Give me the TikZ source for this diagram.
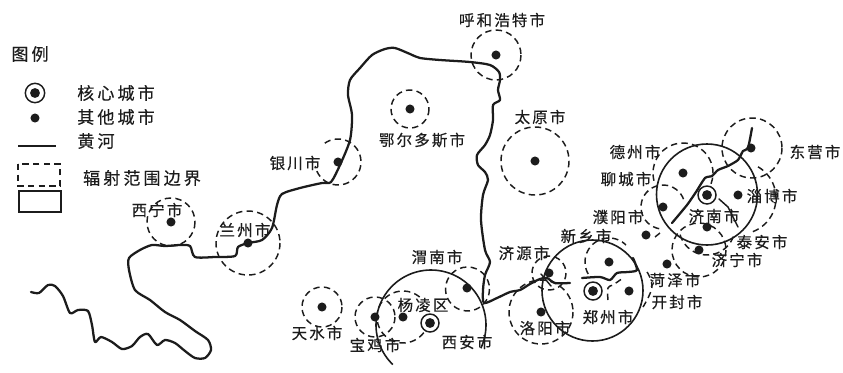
\documentclass[tikz,border=0pt]{standalone}
\usepackage{fontspec}
\newfontfamily\cjkf[LetterSpace=14,FakeBold=0.4]{Noto Sans CJK SC}
\newfontfamily\cjkleg[LetterSpace=18,FakeBold=0.3]{Noto Sans CJK SC}
\definecolor{ink}{HTML}{1C1C1C}
\tikzset{
  river/.style={draw=ink,line width=1.7pt,line join=round,line cap=round},
  thinriver/.style={draw=ink,line width=1.1pt,line cap=round},
  zone/.style={draw=ink,line width=1.1pt,dash pattern=on 4.8pt off 3.2pt},
  reach/.style={draw=ink,line width=1.2pt},
  citydot/.style={circle,fill=ink,inner sep=0pt,minimum size=6.8pt},
  corecity/.style={circle,draw=ink,line width=1.1pt,fill=white,inner sep=0pt,minimum size=13.5pt,
     path picture={\fill[ink] (path picture bounding box.center) circle (3.7pt);}},
  lbl/.style={font=\cjkf\fontsize{11.6pt}{13pt}\selectfont,text=ink,inner sep=0pt},
  legendlbl/.style={font=\cjkleg\fontsize{12.8pt}{14pt}\selectfont,text=ink,inner sep=0pt},
}
\begin{document}
\begin{tikzpicture}[x=0.75pt,y=-0.75pt]
\useasboundingbox (0,0) rectangle (843,372);
% Yellow River
\draw[river] plot[smooth,tension=0.45] coordinates {(31,292)(39,293)(48,285)(55,286)(63,296)(70,313)(78,310)(88,311)(92,325)(95,342)(101,337)(112,342)(122,349)(132,346)(140,337)(148,334)(157,345)(165,340)(175,343)(185,351)(195,358)(205,358)(211,350)(208,340)(195,331)(180,320)(165,312)(150,300)(135,290)(129,270)(129,258)(140,250)(152,245)(165,246)(180,245)(190,246)(195,257)(215,257)(235,256)(238,247)(248,243)(262,240)(272,228)(277,205)(282,194)(300,188)(322,183)(331,182)(340,165)(350,140)(352,115)(348,95)(350,80)(360,68)(372,55)(385,49)(395,48)(410,54)(420,58)(440,60)(470,62)(490,65)(499,72)(500,80)(498,90)(500,100)(493,105)(493,120)(490,135)(485,145)(477,155)(478,165)(485,172)(488,180)(483,195)(481,220)(485,250)(490,262)(485,275)(483,290)(484,303)(497,298)(510,292)(520,290)(530,284)(540,279)(547,278)(555,283)(570,283)};
\draw[river] plot[smooth,tension=0.45] coordinates {(582,278)(600,277)(610,280)(617,273)(628,272)(637,270)(633,258)};
\draw[river] plot[smooth,tension=0.35] coordinates {(672,223)(687,205)(696,192)(705,178)(712,176)(718,170)(728,166)(738,160)(743,151)(748,148)(752,128)};
\draw[thinriver] (541,274) -- (551,286);
\draw[thinriver] (719,199) -- (728,207) -- (738,227);
% Core-city radiation boundaries
\draw[reach] plot[smooth,domain=134:385,samples=40] ({431+55*cos(\x)},{325+55*sin(\x)});
\draw[reach] (592.5,290.5) circle[radius=50.5];
\draw[reach] (707,194.5) circle[radius=50.5];
% Other-city radiation boundaries
\draw[zone] (496,55) circle[radius=25];
\draw[zone] (410,109) circle[radius=19];
\draw[zone] plot[smooth,domain=-125:170,samples=40] ({338+23*cos(\x)},{162+23*sin(\x)});
\draw[zone] (535,161) circle[radius=34];
\draw[zone] (171,222) circle[radius=24];
\draw[zone] (248,243) circle[radius=32];
\draw[zone] (322,307) circle[radius=20];
\draw[zone] (375,317) circle[radius=20];
\draw[zone] plot[smooth,domain=37:310,samples=40] ({403+26*cos(\x)},{317+26*sin(\x)});
\draw[zone] (467.5,289) circle[radius=22];
\draw[zone] (549,273) circle[radius=17];
\draw[zone] (541,312) circle[radius=32];
\draw[zone] plot[smooth,domain=150:315,samples=30] ({609+24*cos(\x)},{262+24*sin(\x)});
\draw[zone] plot[smooth,tension=0.7] coordinates {(608,300)(608,288)(613,285)(623,278)};
\draw[zone] plot[smooth,tension=0.7] coordinates {(647,272)(652,287)(643,307)};
\draw[zone] plot[smooth,domain=100:350,samples=30] ({663+22*cos(\x)},{207+22*sin(\x)});
\draw[zone] (655,237) -- (660,233);
\draw[zone] (699,250) circle[radius=27];
\draw[zone] plot[smooth,domain=20:165,samples=25] ({707+28*cos(\x)},{227+28*sin(\x)});
\draw[zone] plot[smooth,domain=300:430,samples=30] ({740+36*cos(\x)},{198+36*sin(\x)});
\draw[zone] (752,148) circle[radius=30];
\draw[zone] plot[smooth,domain=165:385,samples=35] ({683+30*cos(\x)},{173+30*sin(\x)});
% Cities
\node[citydot] (xining) at (171,222) {};
\node[citydot] (lanzhou) at (248,243) {};
\node[citydot] (yinchuan) at (338,162) {};
\node[citydot] (erdos) at (410,109) {};
\node[citydot] (hohhot) at (496,55) {};
\node[citydot] (taiyuan) at (535,161) {};
\node[citydot] (tianshui) at (322,307) {};
\node[citydot] (baoji) at (375,317) {};
\node[citydot] (yangling) at (403,317) {};
\node[citydot] (weinan) at (467,288) {};
\node[citydot] (jiyuan) at (549,273) {};
\node[citydot] (luoyang) at (541,312) {};
\node[citydot] (xinxiang) at (609,262) {};
\node[citydot] (kaifeng) at (629,291) {};
\node[citydot] (puyang) at (646,235) {};
\node[citydot] (heze) at (667,264) {};
\node[citydot] (jining) at (699,250) {};
\node[citydot] (taian) at (707,227) {};
\node[citydot] (liaocheng) at (663,207) {};
\node[citydot] (dezhou) at (683,173) {};
\node[citydot] (zibo) at (738,195) {};
\node[citydot] (dongying) at (751,148) {};
\node[corecity] (xian) at (430,323) {};
\node[corecity] (zhengzhou) at (593,291) {};
\node[corecity] (jinan) at (707,195) {};
% City labels
\node[lbl] (lhohhot) at (502,20) {呼和浩特市};
\node[lbl] (lerdos) at (422,140) {鄂尔多斯市};
\node[lbl] (lyinchuan) at (295,163) {银川市};
\node[lbl] (ltaiyuan) at (540,117) {太原市};
\node[lbl] (lxining) at (157,210) {西宁市};
\node[lbl] (llanzhou) at (245,230) {兰州市};
\node[lbl] (lweinan) at (437,257) {渭南市};
\node[lbl] (ljiyuan) at (524,253) {济源市};
\node[lbl] (lxinxiang) at (586,236) {新乡市};
\node[lbl] (lpuyang) at (618,217) {濮阳市};
\node[lbl] (lliaocheng) at (626,179) {聊城市};
\node[lbl] (ldezhou) at (635,152) {德州市};
\node[lbl] (ldongying) at (815,152) {东营市};
\node[lbl] (lzibo) at (772,196) {淄博市};
\node[lbl] (ljinan) at (714,216) {济南市};
\node[lbl] (ltaian) at (762,242) {泰安市};
\node[lbl] (ljining) at (737,260) {济宁市};
\node[lbl] (lheze) at (675,280) {菏泽市};
\node[lbl] (lkaifeng) at (677,302) {开封市};
\node[lbl] (lzhengzhou) at (608,317) {郑州市};
\node[lbl] (lluoyang) at (545,328) {洛阳市};
\node[lbl] (lyangling) at (423,305) {杨凌区};
\node[lbl] (lxian) at (467,342) {西安市};
\node[lbl] (lbaoji) at (375,345) {宝鸡市};
\node[lbl] (ltianshui) at (317,333) {天水市};
% Legend
\node[legendlbl] (legtitle) at (30,54) {图例};
\node[corecity,minimum size=14.5pt] (legcore) at (35,93) {};
\node[legendlbl] (lcore) at (116,93) {核心城市};
\node[citydot] (legdot) at (35,118) {};
\node[legendlbl] (lother) at (116,117) {其他城市};
\draw[draw=ink,line width=1.1pt] (18,146) -- (56,146);
\node[legendlbl] (lriver) at (96,141) {黄河};
\draw[zone,line width=1pt] (18,164) rectangle (60,186);
\draw[reach,line width=1pt] (19,191) rectangle (61,212);
\node[legendlbl] (lbound) at (142,178) {辐射范围边界};
\end{tikzpicture}
\end{document}
